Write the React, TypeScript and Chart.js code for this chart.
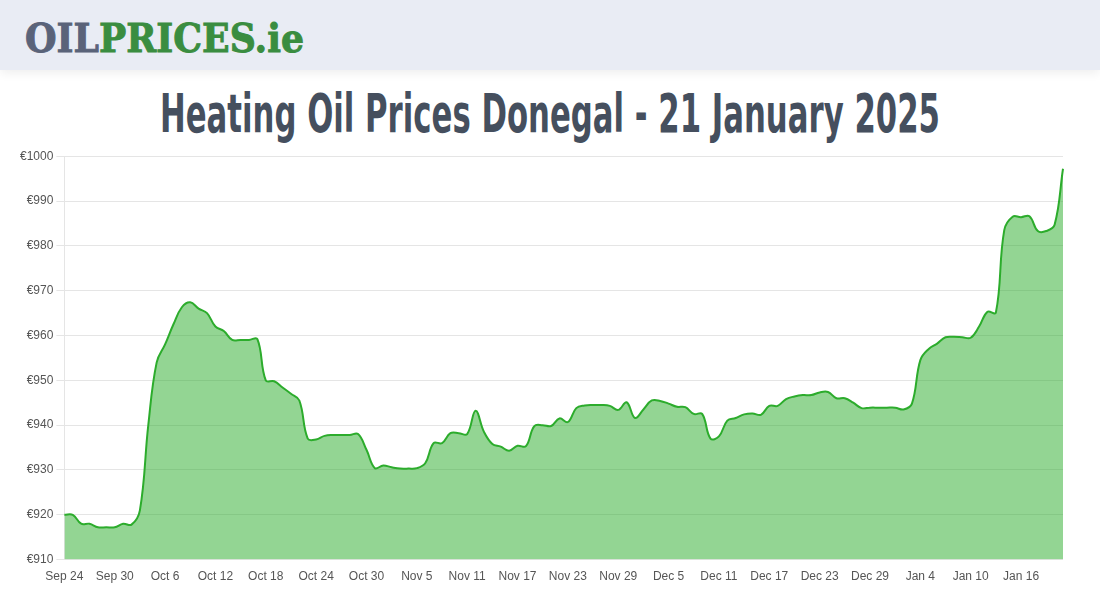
import React, { useEffect, useLayoutEffect, useRef } from "react";
import { Chart, registerables } from "chart.js";

Chart.register(...registerables);

const dateLabels: string[] = [
  "Sep 24", "Sep 25", "Sep 26", "Sep 27", "Sep 28", "Sep 29", "Sep 30",
  "Oct 1", "Oct 2", "Oct 3", "Oct 4", "Oct 5", "Oct 6", "Oct 7", "Oct 8", "Oct 9", "Oct 10",
  "Oct 11", "Oct 12", "Oct 13", "Oct 14", "Oct 15", "Oct 16", "Oct 17", "Oct 18", "Oct 19", "Oct 20",
  "Oct 21", "Oct 22", "Oct 23", "Oct 24", "Oct 25", "Oct 26", "Oct 27", "Oct 28", "Oct 29", "Oct 30", "Oct 31",
  "Nov 1", "Nov 2", "Nov 3", "Nov 4", "Nov 5", "Nov 6", "Nov 7", "Nov 8", "Nov 9", "Nov 10",
  "Nov 11", "Nov 12", "Nov 13", "Nov 14", "Nov 15", "Nov 16", "Nov 17", "Nov 18", "Nov 19", "Nov 20",
  "Nov 21", "Nov 22", "Nov 23", "Nov 24", "Nov 25", "Nov 26", "Nov 27", "Nov 28", "Nov 29", "Nov 30",
  "Dec 1", "Dec 2", "Dec 3", "Dec 4", "Dec 5", "Dec 6", "Dec 7", "Dec 8", "Dec 9", "Dec 10",
  "Dec 11", "Dec 12", "Dec 13", "Dec 14", "Dec 15", "Dec 16", "Dec 17", "Dec 18", "Dec 19", "Dec 20",
  "Dec 21", "Dec 22", "Dec 23", "Dec 24", "Dec 25", "Dec 26", "Dec 27", "Dec 28", "Dec 29", "Dec 30", "Dec 31",
  "Jan 1", "Jan 2", "Jan 3", "Jan 4", "Jan 5", "Jan 6", "Jan 7", "Jan 8", "Jan 9", "Jan 10",
  "Jan 11", "Jan 12", "Jan 13", "Jan 14", "Jan 15", "Jan 16", "Jan 17", "Jan 18", "Jan 19", "Jan 20", "Jan 21",
];

const tickLabels: string[] = [
  "Sep 24", "Sep 30", "Oct 6", "Oct 12", "Oct 18", "Oct 24", "Oct 30",
  "Nov 5", "Nov 11", "Nov 17", "Nov 23", "Nov 29", "Dec 5", "Dec 11",
  "Dec 17", "Dec 23", "Dec 29", "Jan 4", "Jan 10", "Jan 16",
];

const prices: number[] = [
  920, 920, 918, 918, 917.2, 917.2, 917.2, 918, 917.8, 921,
  940, 954, 958, 962.5, 966.3, 967.4, 966, 965, 962, 961,
  959, 959, 959, 959.2, 950, 949.8, 948.4, 947, 945.5, 937,
  936.8, 937.6, 937.8, 937.8, 937.8, 938, 934.5, 930.4, 931, 930.6,
  930.3, 930.3, 930.4, 931.5, 936, 936, 938.2, 938.2, 938, 943.2,
  938.5, 935.8, 935.2, 934.3, 935.4, 935.3, 939.8, 940, 939.8, 941.5,
  940.7, 943.8, 944.4, 944.5, 944.5, 944.3, 943.4, 945.1, 941.6, 943.5,
  945.5, 945.4, 944.8, 944.1, 944, 942.5, 942.5, 937, 937.5, 941,
  941.6, 942.4, 942.6, 942.3, 944.3, 944.3, 945.8, 946.4, 946.7, 946.7,
  947.3, 947.4, 946, 946, 945, 943.8, 943.9, 943.9, 943.9, 943.9,
  943.5, 944.8, 954.5, 957, 958.2, 959.6, 959.7, 959.6, 959.5, 962,
  965.3, 965.1, 983.5, 986.5, 986.4, 986.6, 983.3, 983.3, 984.7, 997.2,
];

const yMin = 910;
const yMax = 1000;
const yStep = 10;

const titleText = "Heating Oil Prices Donegal - 21 January 2025";

function FitText(props: { text: React.ReactNode; width: number; style: React.CSSProperties; left: number; top: number }) {
  const ref = useRef<HTMLDivElement | null>(null);
  useLayoutEffect(() => {
    const el = ref.current;
    if (!el) return;
    el.style.transform = "none";
    const w = el.getBoundingClientRect().width;
    if (w > 0) {
      el.style.transformOrigin = "0 0";
      el.style.transform = `scaleX(${props.width / w})`;
    }
  });
  return (
    <div
      ref={ref}
      style={{
        position: "absolute",
        left: props.left,
        top: props.top,
        whiteSpace: "nowrap",
        lineHeight: 1,
        ...props.style,
      }}
    >
      {props.text}
    </div>
  );
}

function PriceChart() {
  const canvasRef = useRef<HTMLCanvasElement | null>(null);
  useEffect(() => {
    const canvas = canvasRef.current;
    if (!canvas) return;
    const chart = new Chart(canvas, {
      type: "line",
      data: {
        labels: dateLabels,
        datasets: [
          {
            data: prices,
            borderColor: "rgb(44,172,44)",
            backgroundColor: "rgba(40,172,40,0.5)",
            borderWidth: 2,
            pointRadius: 0,
            pointHoverRadius: 0,
            tension: 0.4,
            fill: "start",
          },
        ],
      },
      options: {
        animation: false,
        responsive: true,
        maintainAspectRatio: false,
        layout: { padding: { left: 17, right: 37, top: 10, bottom: 6 } },
        plugins: { legend: { display: false }, tooltip: { enabled: false } },
        scales: {
          x: {
            grid: { display: false, drawTicks: false },
            border: { display: false },
            ticks: {
              autoSkip: false,
              maxRotation: 0,
              minRotation: 0,
              padding: 10,
              color: "#555",
              font: { family: "'Liberation Sans', Arial, sans-serif", size: 12 },
              callback: (_v: any, i: number) => {
                const l = dateLabels[i];
                return tickLabels.includes(l) ? l : "";
              },
            },
          },
          y: {
            min: yMin,
            max: yMax,
            grid: { color: "rgba(0,0,0,0.1)", tickLength: 8 },
            border: { color: "rgba(0,0,0,0.1)" },
            ticks: {
              stepSize: yStep,
              padding: 3,
              color: "#555",
              font: { family: "'Liberation Sans', Arial, sans-serif", size: 12 },
              callback: (v: any) => "€" + v,
            },
          },
        },
      },
    });
    return () => chart.destroy();
  }, []);
  return (
    <div style={{ position: "absolute", left: 0, top: 146, width: 1100, height: 454 }}>
      <canvas ref={canvasRef} />
    </div>
  );
}

export default function App() {
  return (
    <div
      style={{
        position: "fixed",
        left: 0,
        top: 0,
        width: 1100,
        height: 600,
        background: "#ffffff",
        overflow: "hidden",
      }}
    >
      <div
        style={{
          position: "absolute",
          left: 0,
          top: 0,
          width: 1100,
          height: 70,
          background: "#e9ecf4",
          boxShadow: "0 3px 10px rgba(0,0,0,0.07)",
        }}
      />
      <FitText
        left={25}
        top={18}
        width={279}
        text={
          <>
            <span style={{ color: "#5a6379" }}>OIL</span>
            <span style={{ color: "#3a8d40" }}>PRICES.ie</span>
          </>
        }
        style={{
          fontFamily: "'DejaVu Serif', serif",
          fontWeight: 900,
          fontSize: 40,
          WebkitTextStroke: "1px currentColor",
        }}
      />
      <FitText
        left={160}
        top={87}
        width={780}
        text={titleText}
        style={{
          fontFamily: "'DejaVu Sans Condensed', 'DejaVu Sans', sans-serif",
          fontWeight: 700,
          fontSize: 53,
          color: "#454f5e",
        }}
      />
      <PriceChart />
    </div>
  );
}
